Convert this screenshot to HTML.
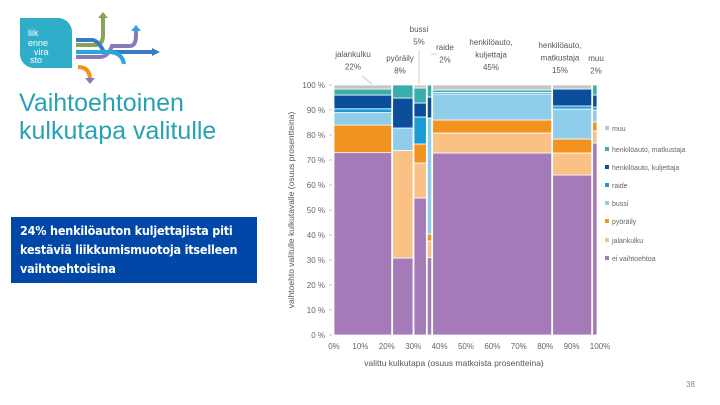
<!DOCTYPE html>
<html><head><meta charset="utf-8"><style>
body{margin:0;width:720px;height:405px;background:#fff;overflow:hidden;font-family:"Liberation Sans",sans-serif;position:relative}
.title{position:absolute;left:19px;top:89px;font-size:25px;line-height:28px;color:#27a2b4}
.box{position:absolute;left:11px;top:217px;width:246px;height:66px;background:#0047a7;color:#fff;font-size:12.5px;line-height:19px;padding:4px 0 0 9px;box-sizing:border-box;font-family:"DejaVu Sans Condensed","DejaVu Sans",sans-serif;font-weight:bold;letter-spacing:-0.2px}
.pg{position:absolute;left:686px;top:380px;font-size:8px;color:#888}
</style></head><body>
<svg width="170" height="85" style="position:absolute;left:0;top:0">
<path d="M20 18 H58 A14 14 0 0 1 72 32 V68 H34 A14 14 0 0 1 20 54 Z" fill="#2eaec9"/>
<text x="28" y="36" font-size="9" fill="#fff" font-family="Liberation Sans">liik</text>
<text x="28" y="46" font-size="9" fill="#fff" font-family="Liberation Sans">enne</text>
<text x="34" y="55" font-size="9" fill="#fff" font-family="Liberation Sans">vira</text>
<text x="30" y="63" font-size="9" fill="#fff" font-family="Liberation Sans">sto</text>
<g stroke-width="4" fill="none">
<path d="M76 45 H95 Q103 45 103 35 V18" stroke="#8aa35a"/>
<path d="M76 40 H92 Q98 40 104 52 H155" stroke="#3a7ac4"/>
<path d="M76 57 H100 Q108 57 112 46 H130 Q136 46 136 35 V30" stroke="#8a7ab8"/>
<path d="M76 52 H108 Q122 52 124 64" stroke="#2aa6d8"/>
<path d="M78 67 Q90 67 90 80" stroke="#f2921f"/>
</g>
<polygon points="98,18 103,12 108,18" fill="#8aa35a"/><polygon points="152,48 160,52 152,56" fill="#3a7ac4"/><polygon points="131,31 136,25 141,31" fill="#2aa6d8"/><polygon points="85,78 90,84 95,78" fill="#8a7ab8"/>
</svg>
<div class="title">Vaihtoehtoinen<br>kulkutapa valitulle</div>
<div class="box">24% henkilöauton kuljettajista piti<br>kestäviä liikkumismuotoja itselleen<br>vaihtoehtoisina</div>
<div class="pg">38</div>
<svg id="chart" width="720" height="405" style="position:absolute;left:0;top:0"></svg>
<script>
const categories=["jalankulku","pyöräily","bussi","raide","henkilöauto, kuljettaja","henkilöauto, matkustaja","muu"];
const shares=[22,8,5,2,45,15,2];
const seriesNames=["ei vaihtoehtoa","jalankulku","pyöräily","bussi","raide","henkilöauto, kuljettaja","henkilöauto, matkustaja","muu"];
const eiVaihtoehtoa=[72.8,30.8,54.8,31,72.8,64,76.8];
const jalankulku=[0,43,14,6.6,8,8.8,4.8];
const pyoraily=[11,0,7.6,2.8,5.2,5.6,3.6];
const bussi=[5,9,0,46.4,10.4,12,4.8];
const raide=[1.5,0,10.8,0,0.6,1.2,1.2];
const kuljettaja=[5.5,12,5.6,8.4,0,6.8,4.8];
const matkustaja=[2.4,5.2,6,4.8,1,0,4];
const muu=[1.6,0,1.2,0,2,1.6,0];
const yTicks=[0,10,20,30,40,50,60,70,80,90,100];
const xTicks=[0,10,20,30,40,50,60,70,80,90,100];
const topLabels=[["jalankulku","22%"],["pyöräily","8%"],["bussi","5%"],["raide","2%"],["henkilöauto,","kuljettaja","45%"],["henkilöauto,","matkustaja","15%"],["muu","2%"]];

const colors=["#a57ab8","#f9c186","#f2921f","#8fcdea","#1b9ad6","#0b4f9c","#3aaeaa","#c4c4c4"];
const series=[eiVaihtoehtoa,jalankulku,pyoraily,bussi,raide,kuljettaja,matkustaja,muu];
const X0=334,X1=598,Y0=335,Y1=85;
const total=shares.reduce((a,b)=>a+b,0);
const xs=v=>X0+v/total*(X1-X0);
const xa=v=>X0+v/100*(X1-X0);
const ys=v=>Y0-v/100*(Y0-Y1);
const svg=document.getElementById('chart');const NS="http://www.w3.org/2000/svg";
function mk(t,a,txt){const e=document.createElementNS(NS,t);for(const k in a)e.setAttribute(k,a[k]);if(txt!==undefined)e.textContent=txt;svg.appendChild(e);return e;}
let cum=0;
const labelPos=[[353,57],[400,61],[419,32],[445,50],[491,45],[560,48],[596,61]];
categories.forEach((c,i)=>{
  const xl=xs(cum),xr=xs(cum+shares[i]);cum+=shares[i];
  let colSum=0;series.forEach(s=>colSum+=s[i]);
  let acc=0;
  series.forEach((s,j)=>{
    if(s[i]<=0)return;
    const v=s[i]/colSum*100;
    const r=mk('rect',{x:xl,y:ys(acc+v),width:Math.max(0,xr-xl-1),height:ys(acc)-ys(acc+v),fill:colors[j],stroke:'#fff','stroke-width':0.8});
    
    
    acc+=v;
  });
  const lines=topLabels[i];
  lines.forEach((l,k)=>{const t=mk('text',{x:labelPos[i][0],y:labelPos[i][1]+k*12.5,'font-size':8,fill:'#555','text-anchor':'middle'},l);
    
    });
});
mk('line',{x1:362,y1:76,x2:372,y2:84,stroke:'#aaa','stroke-width':0.6});
mk('line',{x1:419,y1:50,x2:419,y2:84,stroke:'#aaa','stroke-width':0.6});
mk('line',{x1:431,y1:54,x2:437,y2:54,stroke:'#aaa','stroke-width':0.6});
yTicks.forEach(v=>{const t=mk('text',{x:325,y:ys(v)+3,'font-size':8,fill:'#666','text-anchor':'end'},v+' %');
  
  
  mk('line',{x1:329,x2:332,y1:ys(v),y2:ys(v),stroke:'#999','stroke-width':0.6});});
xTicks.forEach(v=>{const t=mk('text',{x:xa(v)+(v==100?2:0),y:349,'font-size':8,fill:'#666','text-anchor':'middle'},v+'%');
  
  });
const xt=mk('text',{x:454,y:366,'font-size':8.5,fill:'#555','text-anchor':'middle'},'valittu kulkutapa (osuus matkoista prosentteina)');


const yt=mk('text',{x:0,y:0,'font-size':8.5,fill:'#555','text-anchor':'middle',transform:'translate(294,210) rotate(-90)'},'vaihtoehto valitulle kulkutavalle (osuus prosentteina)');


const legY=[130,151,169,187,205,223,242,260];
[7,6,5,4,3,2,1,0].forEach((j,k)=>{
  mk('rect',{x:605,y:legY[k]-4,width:4,height:4,fill:colors[j]});
  const t=mk('text',{x:612,y:legY[k]+1,'font-size':7,fill:'#666'},seriesNames[j]);
  
  
});
</script>
</body></html>
